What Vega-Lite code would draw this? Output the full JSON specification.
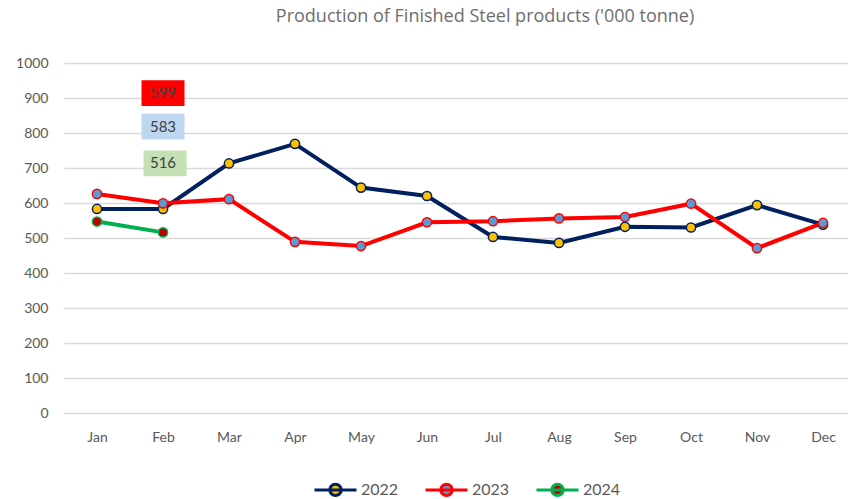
{
  "$schema": "https://vega.github.io/schema/vega-lite/v6.json",
  "width": 792,
  "height": 350,
  "autosize": "none",
  "padding": {"left": 64, "top": 63, "right": 0, "bottom": 86},
  "config": {
    "font": "Lato",
    "view": {"stroke": null}
  },
  "title": {
    "text": "Production of Finished Steel products ('000 tonne)",
    "font": "Open Sans",
    "fontSize": 18,
    "fontWeight": "normal",
    "color": "#6E6E6E",
    "anchor": "middle",
    "offset": 30,
    "dx": 25
  },
  "datasets": {
    "series": [
      {"month": "Jan", "year": "2022", "value": 583},
      {"month": "Feb", "year": "2022", "value": 583},
      {"month": "Mar", "year": "2022", "value": 713},
      {"month": "Apr", "year": "2022", "value": 769},
      {"month": "May", "year": "2022", "value": 644},
      {"month": "Jun", "year": "2022", "value": 620},
      {"month": "Jul", "year": "2022", "value": 503},
      {"month": "Aug", "year": "2022", "value": 486},
      {"month": "Sep", "year": "2022", "value": 532},
      {"month": "Oct", "year": "2022", "value": 530},
      {"month": "Nov", "year": "2022", "value": 594},
      {"month": "Dec", "year": "2022", "value": 538},
      {"month": "Jan", "year": "2023", "value": 626},
      {"month": "Feb", "year": "2023", "value": 599},
      {"month": "Mar", "year": "2023", "value": 611},
      {"month": "Apr", "year": "2023", "value": 489},
      {"month": "May", "year": "2023", "value": 477},
      {"month": "Jun", "year": "2023", "value": 545},
      {"month": "Jul", "year": "2023", "value": 548},
      {"month": "Aug", "year": "2023", "value": 556},
      {"month": "Sep", "year": "2023", "value": 560},
      {"month": "Oct", "year": "2023", "value": 598},
      {"month": "Nov", "year": "2023", "value": 471},
      {"month": "Dec", "year": "2023", "value": 543},
      {"month": "Jan", "year": "2024", "value": 547},
      {"month": "Feb", "year": "2024", "value": 516}
    ],
    "boxes": [
      {"month": "Feb", "pos": 914, "label": "599", "kind": "a"},
      {"month": "Feb", "pos": 818, "label": "583", "kind": "b"},
      {"month": "Feb", "pos": 713, "label": "516", "kind": "c"}
    ]
  },
  "encoding": {
    "x": {
      "field": "month",
      "type": "ordinal",
      "sort": ["Jan", "Feb", "Mar", "Apr", "May", "Jun", "Jul", "Aug", "Sep", "Oct", "Nov", "Dec"],
      "scale": {"type": "point", "padding": 0.5},
      "axis": {
        "title": null,
        "labelAngle": 0,
        "domain": false,
        "ticks": false,
        "grid": false,
        "labelPadding": 17,
        "labelFontSize": 14,
        "labelColor": "#595959"
      }
    },
    "y": {
      "field": "value",
      "type": "quantitative",
      "scale": {"domain": [0, 1000]},
      "axis": {
        "title": null,
        "values": [0, 100, 200, 300, 400, 500, 600, 700, 800, 900, 1000],
        "format": "d",
        "labelOverlap": false,
        "domain": false,
        "ticks": false,
        "labelPadding": 16,
        "labelFontSize": 14,
        "labelColor": "#595959",
        "gridColor": "#D9D9D9",
        "gridWidth": 1.5
      }
    }
  },
  "layer": [
    {
      "data": {"name": "series"},
      "mark": {"type": "line", "strokeWidth": 4},
      "encoding": {
        "stroke": {
          "field": "year",
          "type": "nominal",
          "scale": {"domain": ["2022", "2023", "2024"], "range": ["#002060", "#FF0000", "#00B050"]},
          "legend": {
            "orient": "none",
            "legendX": 249,
            "legendY": 404,
            "direction": "horizontal",
            "title": null,
            "symbolType": "M-1,0L1,0M-0.27,0A0.27,0.27 0 1,1 0.27,0A0.27,0.27 0 1,1 -0.27,0Z",
            "symbolSize": 1764,
            "symbolStrokeWidth": 3,
            "labelFontSize": 16,
            "labelColor": "#595959",
            "labelOffset": 3,
            "columnPadding": 20,
            "encode": {
              "symbols": {
                "update": {
                  "fill": {"signal": "scale('fill', datum.value)"},
                  "fillOpacity": {"value": 1},
                  "opacity": {"value": 1}
                }
              }
            }
          }
        }
      }
    },
    {
      "data": {"name": "series"},
      "mark": {"type": "point", "filled": true, "size": 85, "strokeWidth": 1.5, "opacity": 1},
      "encoding": {
        "stroke": {"field": "year", "type": "nominal"},
        "fill": {
          "field": "year",
          "type": "nominal",
          "scale": {"domain": ["2022", "2023", "2024"], "range": ["#FFC000", "#5B9BD5", "#C00000"]},
          "legend": null
        }
      }
    },
    {
      "data": {"name": "boxes"},
      "transform": [{"filter": "datum.kind == 'a'"}],
      "mark": {"type": "point", "shape": "M-1,-0.6L1,-0.6L1,0.6L-1,0.6Z", "size": 1849, "filled": true, "fill": "#FF0000", "opacity": 1, "strokeWidth": 0},
      "encoding": {"y": {"field": "pos", "type": "quantitative"}}
    },
    {
      "data": {"name": "boxes"},
      "transform": [{"filter": "datum.kind == 'b'"}],
      "mark": {"type": "point", "shape": "M-1,-0.6L1,-0.6L1,0.6L-1,0.6Z", "size": 1849, "filled": true, "fill": "#BDD7EE", "opacity": 1, "strokeWidth": 0},
      "encoding": {"y": {"field": "pos", "type": "quantitative"}}
    },
    {
      "data": {"name": "boxes"},
      "transform": [{"filter": "datum.kind == 'c'"}],
      "mark": {"type": "point", "shape": "M-1,-0.6L1,-0.6L1,0.6L-1,0.6Z", "size": 1849, "filled": true, "fill": "#C5E0B4", "opacity": 1, "strokeWidth": 0, "xOffset": 2},
      "encoding": {"y": {"field": "pos", "type": "quantitative"}}
    },
    {
      "data": {"name": "boxes"},
      "mark": {"type": "text", "fontSize": 15, "color": "#404040", "baseline": "middle", "align": "center"},
      "encoding": {
        "y": {"field": "pos", "type": "quantitative"},
        "text": {"field": "label"}
      }
    }
  ]
}
